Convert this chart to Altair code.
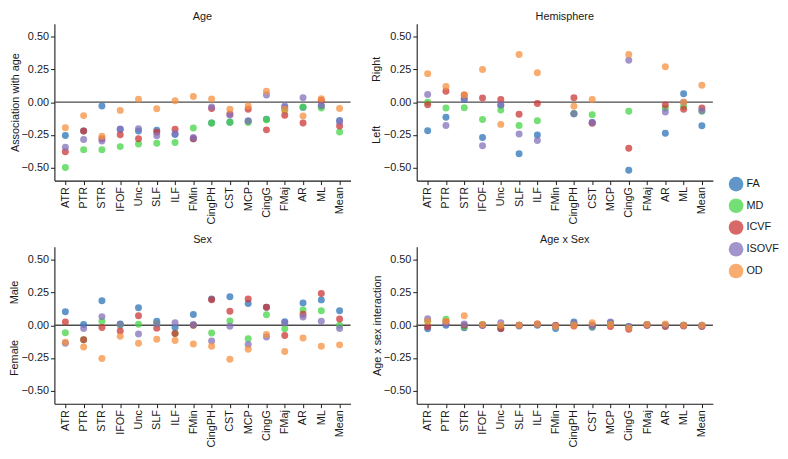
import altair as alt
import pandas as pd

tracts = ["ATR", "PTR", "STR", "IFOF", "Unc", "SLF", "ILF", "FMin", "CingPH",
          "CST", "MCP", "CingG", "FMaj", "AR", "ML", "Mean"]
metrics = ["FA", "MD", "ICVF", "ISOVF", "OD"]
colors = ["#2b73b8", "#45d445", "#cc3535", "#8472bb", "#f5903f"]

# ---- Age ----
age_FA = [-0.255, -0.22, -0.03, -0.21, -0.22, -0.214, -0.248, -0.28, -0.16, -0.154, -0.144, -0.13, -0.04, -0.04, -0.03, -0.14]
age_MD = [-0.50, -0.363, -0.363, -0.34, -0.32, -0.315, -0.308, -0.197, -0.16, -0.154, -0.156, -0.135, -0.062, -0.038, -0.045, -0.228]
age_ICVF = [-0.38, -0.22, -0.28, -0.25, -0.28, -0.23, -0.207, -0.28, -0.048, -0.09, -0.055, -0.212, -0.10, -0.16, 0.014, -0.183]
age_ISOVF = [-0.344, -0.286, -0.298, -0.205, -0.204, -0.257, -0.24, -0.27, -0.038, -0.10, -0.144, 0.055, -0.03, 0.034, -0.025, -0.15]
age_OD = [-0.195, -0.103, -0.26, -0.063, 0.022, -0.05, 0.01, 0.043, 0.024, -0.055, -0.03, 0.084, -0.055, -0.106, 0.026, -0.048]

# ---- Hemisphere (no values for FMin, MCP, FMaj) ----
hem_FA = [-0.218, -0.115, 0.02, -0.27, -0.025, -0.395, -0.252, None, -0.088, -0.155, None, -0.52, None, -0.238, 0.064, -0.18]
hem_MD = [0.0, -0.044, -0.042, -0.132, -0.061, -0.179, -0.142, None, -0.088, -0.096, None, -0.07, None, -0.047, -0.032, -0.07]
hem_ICVF = [-0.02, 0.083, 0.054, 0.032, 0.02, -0.093, -0.01, None, 0.034, -0.162, None, -0.353, None, -0.022, -0.054, -0.045]
hem_ISOVF = [0.059, -0.179, 0.027, -0.333, -0.02, -0.243, -0.294, None, -0.088, -0.155, None, 0.32, None, -0.076, 0.0, -0.065]
hem_OD = [0.218, 0.12, 0.054, 0.25, -0.17, 0.365, 0.225, None, -0.032, 0.02, None, 0.365, None, 0.27, 0.0, 0.13]

# ---- Sex ----
sex_FA = [0.104, 0.005, 0.187, 0.01, 0.134, 0.03, -0.017, 0.083, 0.20, 0.218, 0.167, 0.138, 0.027, 0.17, 0.194, 0.11]
sex_MD = [-0.058, -0.11, 0.03, 0.0, 0.007, 0.012, -0.063, 0.0, -0.06, 0.032, -0.104, 0.08, -0.027, 0.116, 0.11, 0.0]
sex_ICVF = [0.024, -0.11, -0.017, -0.044, 0.073, -0.022, -0.063, 0.0, 0.195, 0.107, 0.20, 0.138, -0.078, 0.085, 0.243, 0.048]
sex_ISOVF = [-0.138, -0.024, 0.066, 0.005, -0.066, 0.012, 0.02, 0.005, -0.12, -0.007, -0.148, -0.09, 0.02, 0.063, 0.03, -0.025]
sex_OD = [-0.129, -0.167, -0.255, -0.085, -0.138, -0.107, -0.117, -0.143, -0.16, -0.26, -0.184, -0.07, -0.20, -0.097, -0.16, -0.15]

# ---- Age x Sex ----
axs_FA = [-0.027, 0.0, -0.02, 0.0, -0.027, -0.005, 0.0, -0.025, 0.025, -0.015, 0.02, -0.01, 0.0, 0.0, 0.0, 0.0]
axs_MD = [0.03, 0.046, -0.01, 0.005, -0.01, 0.0, 0.005, -0.005, 0.01, -0.005, 0.01, -0.015, 0.005, -0.005, 0.0, -0.005]
axs_ICVF = [-0.012, 0.024, 0.0, 0.0, -0.025, 0.0, 0.01, 0.0, -0.005, 0.0, -0.01, -0.03, 0.0, -0.01, -0.005, -0.01]
axs_ISOVF = [0.05, 0.01, 0.01, 0.0, 0.02, 0.0, 0.005, -0.005, 0.015, 0.0, 0.025, -0.01, 0.005, 0.0, 0.0, -0.005]
axs_OD = [0.03, 0.03, 0.073, 0.005, 0.0, 0.0, 0.01, -0.01, 0.0, 0.02, 0.005, -0.02, 0.005, 0.01, 0.0, 0.0]

y_ticks = [-0.5, -0.25, 0.0, 0.25, 0.5]

W, H = 300, 159
FONT = "Liberation Sans"
INK = "#1a1a1a"


def long_df(series):
    rows = []
    for m in metrics:
        for t, v in zip(tracts, series[m]):
            if v is not None:
                rows.append({"tract": t, "metric": m, "value": v})
    return pd.DataFrame(rows)


yscale = alt.Scale(domain=[-0.6, 0.6], nice=False, zero=False)


def yaxis(title):
    return alt.Axis(values=y_ticks, format=".2f", title=title, grid=False)


def panel(title, series, ytitle=None, side=None):
    df = long_df(series)
    rule = alt.Chart(pd.DataFrame({"value": [0.0]})).mark_rule(
        color="#4d4d4d", strokeWidth=1.3
    ).encode(y=alt.Y("value:Q", scale=yscale, axis=yaxis(ytitle)))
    pts = alt.Chart(df).mark_circle(size=50, opacity=0.75).encode(
        x=alt.X("tract:N", sort=tracts,
                scale=alt.Scale(type="point", domain=tracts, padding=0.6),
                axis=alt.Axis(title=None, labelAngle=270, grid=False)),
        y=alt.Y("value:Q", scale=yscale, axis=yaxis(ytitle)),
        color=alt.Color("metric:N", sort=metrics,
                        scale=alt.Scale(domain=metrics, range=colors),
                        legend=alt.Legend(title=None, orient="none",
                                          legendX=683, legendY=155, padding=0,
                                          symbolSize=220, symbolOpacity=0.75,
                                          symbolStrokeWidth=0, symbolType="circle",
                                          labelFontSize=11, rowPadding=7, labelOffset=3,
                                          labelFont=FONT, labelColor=INK)),
    )
    ttl = alt.Chart(pd.DataFrame({"t": [title]})).mark_text(
        fontSize=11, font=FONT, color=INK, baseline="bottom", align="center"
    ).encode(x=alt.value(W / 2), y=alt.value(-2), text="t:N")
    layers = [rule, pts, ttl]
    if side is not None:
        sdf = pd.DataFrame({"label": side[0], "value": side[1]})
        txt = alt.Chart(sdf).mark_text(angle=270, fontSize=11, font=FONT,
                                       color=INK, baseline="middle",
                                       align="center").encode(
            x=alt.value(-40),
            y=alt.Y("value:Q", scale=yscale, axis=yaxis(ytitle)),
            text="label:N",
        )
        layers.append(txt)
    return alt.layer(*layers).properties(width=W, height=H)


age = panel("Age", {"FA": age_FA, "MD": age_MD, "ICVF": age_ICVF,
                    "ISOVF": age_ISOVF, "OD": age_OD},
            ytitle="Association with age")
hem = panel("Hemisphere", {"FA": hem_FA, "MD": hem_MD, "ICVF": hem_ICVF,
                           "ISOVF": hem_ISOVF, "OD": hem_OD},
            side=(["Right", "Left"], [0.25, -0.25]))
sex = panel("Sex", {"FA": sex_FA, "MD": sex_MD, "ICVF": sex_ICVF,
                    "ISOVF": sex_ISOVF, "OD": sex_OD},
            side=(["Male", "Female"], [0.25, -0.25]))
axs = panel("Age x Sex", {"FA": axs_FA, "MD": axs_MD, "ICVF": axs_ICVF,
                          "ISOVF": axs_ISOVF, "OD": axs_OD},
            ytitle="Age x sex interaction")

chart = alt.concat(age, hem, sex, axs, columns=2, spacing={"row": 10, "column": 19}).properties(
    padding={"left": 0, "top": 0, "right": 0, "bottom": 0}
).configure_view(stroke=None).configure_axis(
    labelFont=FONT, titleFont=FONT, labelFontSize=11, titleFontSize=11,
    titleFontWeight="normal", labelColor=INK, titleColor=INK,
    domainColor=INK, tickColor=INK, tickSize=4, labelPadding=2,
    titlePadding=1, domainWidth=1.1,
)

chart.save("out.html", embed_options={"renderer": "svg", "actions": False})
